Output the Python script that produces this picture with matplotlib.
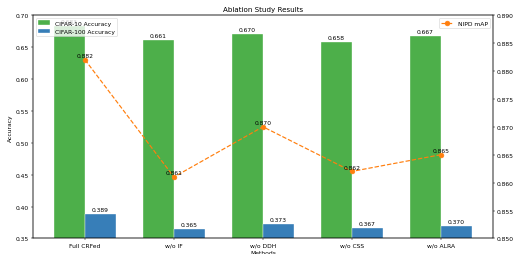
import numpy as np
import matplotlib
matplotlib.use("Agg")
import matplotlib.pyplot as plt

methods = ["Full CRFed", "w/o IF", "w/o DDH", "w/o CSS", "w/o ALRA"]
cifar10 = [0.683, 0.661, 0.670, 0.658, 0.667]
cifar100 = [0.389, 0.365, 0.373, 0.367, 0.370]
nipd_map = [0.882, 0.861, 0.870, 0.862, 0.865]

dpi = 514 / 12
fig, ax1 = plt.subplots(figsize=(12, 255 / dpi), dpi=dpi)

x = np.arange(len(methods))
w = 0.35

b1 = ax1.bar(x - w / 2, cifar10, w, label="CIFAR-10 Accuracy", color="#4daf4a",
             edgecolor="white", linewidth=0.6)
b2 = ax1.bar(x + w / 2, cifar100, w, label="CIFAR-100 Accuracy", color="#377eb8",
             edgecolor="white", linewidth=0.6)
for bars in (b1, b2):
    for b in bars:
        h = b.get_height()
        ax1.text(b.get_x() + b.get_width() / 2, h + 0.003, f"{h:.3f}",
                 ha="center", va="bottom", fontsize=10)

ax1.set_ylim(0.35, 0.70)
ax1.set_xticks(x)
ax1.set_xticklabels(methods)
ax1.set_xlabel("Methods")
ax1.set_ylabel("Accuracy")
ax1.set_title("Ablation Study Results")
ax1.legend(loc="upper left")

ax2 = ax1.twinx()
ax2.plot(x, nipd_map, color="#ff7f0e", linestyle="--", linewidth=2,
         marker="o", markersize=8, label="NIPD mAP")
for xi, v in zip(x, nipd_map):
    ax2.text(xi, v + 0.0003, f"{v:.3f}", ha="center", va="bottom", fontsize=10)
ax2.set_ylim(0.85, 0.89)
ax2.legend(loc="upper right")

fig.subplots_adjust(left=0.064, right=0.959, bottom=0.061, top=0.937)
fig.savefig("out.png", dpi=dpi)
